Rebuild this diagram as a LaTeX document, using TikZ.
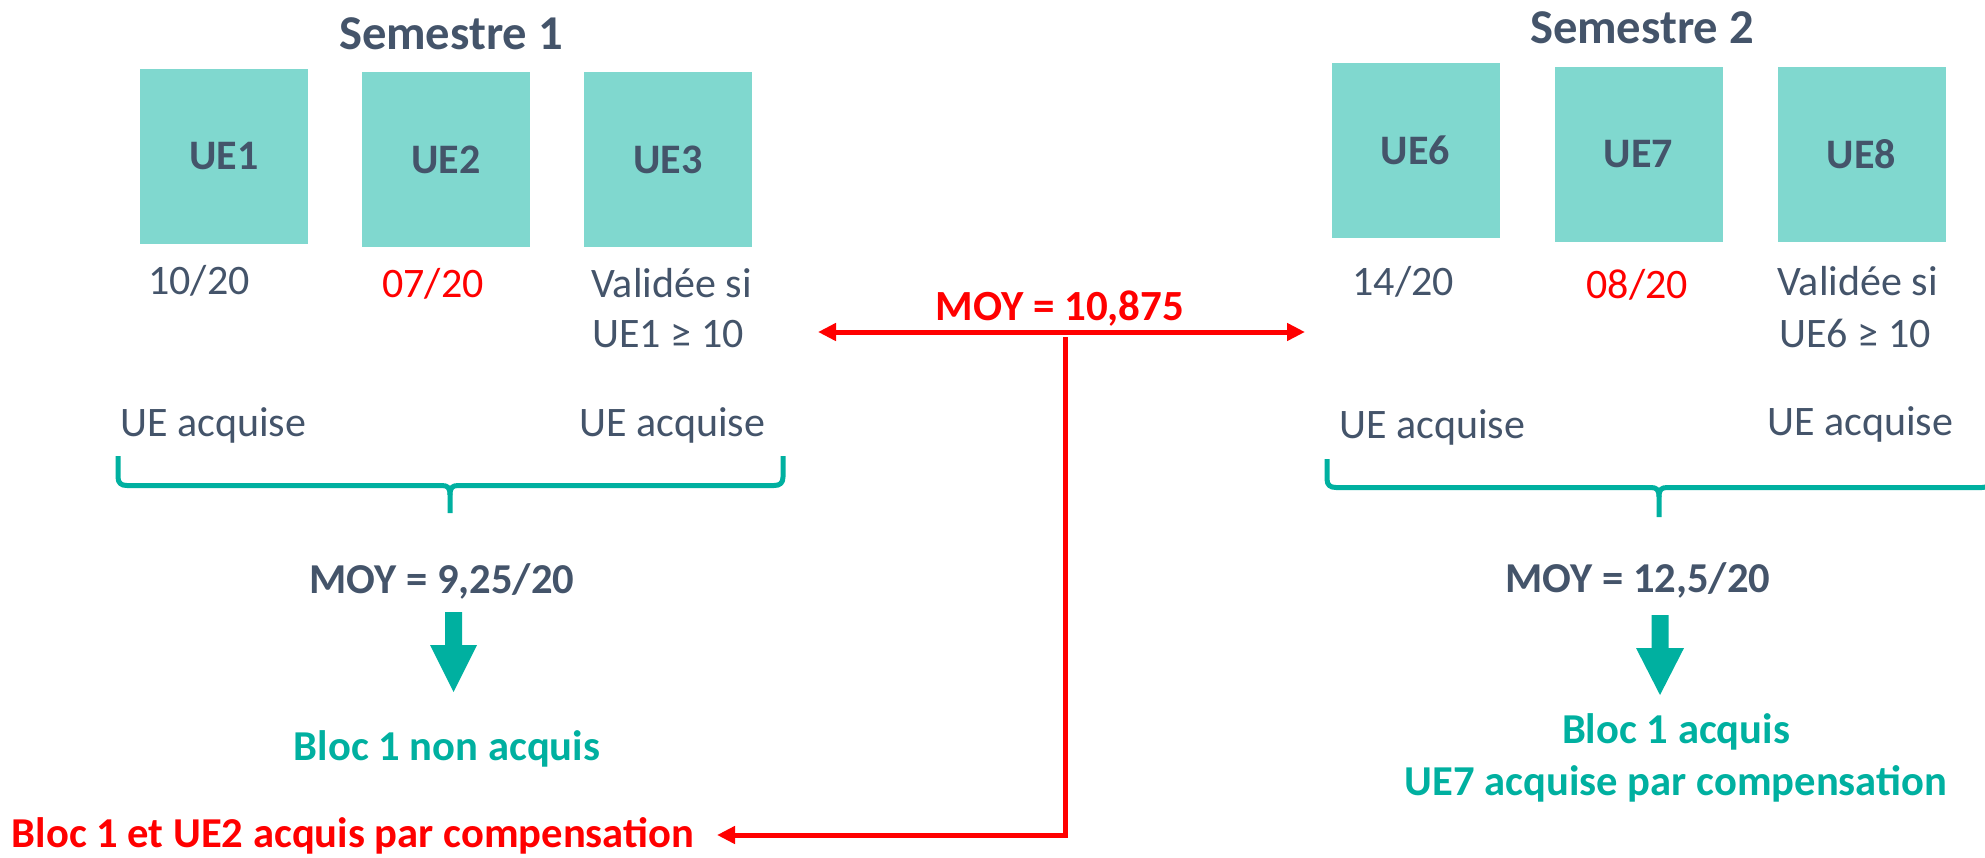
\documentclass[tikz,border=0pt]{standalone}
\usepackage{fontspec}
\setmainfont{Carlito}
\usetikzlibrary{arrows.meta}
\definecolor{slate}{HTML}{44546A}
\definecolor{boxteal}{HTML}{80D8CF}
\definecolor{tealdark}{HTML}{00B0A0}
\definecolor{redx}{HTML}{FF0000}
\begin{document}
\begin{tikzpicture}[x=0.5pt,y=-0.5pt,
  uebox/.style={fill=boxteal, draw=none, inner sep=0pt, minimum width=84pt, minimum height=87.5pt,
    text=slate, font=\bfseries\fontsize{21}{25}\selectfont},
  semtitle/.style={inner sep=0pt, anchor=base, text=slate, font=\bfseries\fontsize{24.3}{29}\selectfont},
  txt/.style={inner sep=0pt, anchor=base west, text=slate, font=\fontsize{21}{26}\selectfont},
  redtxt/.style={txt, text=redx},
  moy/.style={inner sep=0pt, anchor=base, text=slate, font=\bfseries\fontsize{21.3}{26}\selectfont},
  result/.style={inner sep=0pt, anchor=base, text=tealdark, font=\bfseries\fontsize{21.3}{26}\selectfont},
  redbold/.style={inner sep=0pt, anchor=base, text=redx, font=\bfseries\fontsize{21.3}{26}\selectfont},
  brace/.style={draw=tealdark, line width=2.5pt, line join=round},
  redline/.style={draw=redx, line width=2.5pt},
  redtip/.style={-{Triangle[length=9pt,width=8.5pt]}},
  blockarrow/.style={fill=tealdark, draw=none}
]
\useasboundingbox (0,0) rectangle (1985,857);

% ---------- Semestre 1 ----------
\node[semtitle] (s1) at (451,49) {Semestre 1};
\node[uebox] (ue1) at (224,156.5) {UE1};
\node[uebox] (ue2) at (446,159.5) {UE2};
\node[uebox] (ue3) at (668,159.5) {UE3};
\node[txt] (n1) at (148,294) {10/20};
\node[redtxt] (n2) at (382,297) {07/20};
\node[txt] (v3a) at (591,297) {Validée si};
\node[txt] (v3b) at (592,347) {UE1 ≥ 10};
\node[txt] (acq1) at (120,436) {UE acquise};
\node[txt] (acq3) at (579,436) {UE acquise};

\path[brace] (118,456) -- (118,477) .. controls (118,483) and (121,485.5) .. (127,485.5)
  -- (442,485.5) .. controls (448,485.5) and (450,488) .. (450,495) -- (450,513);
\path[brace] (783,456) -- (783,477) .. controls (783,483) and (780,485.5) .. (774,485.5)
  -- (458,485.5) .. controls (452,485.5) and (450,488) .. (450,495);

\node[moy] (moy1) at (442,593) {MOY = 9,25/20};
\path[blockarrow] (445,612) -- (462,612) -- (462,645) -- (477,645) -- (453.5,692) -- (430,645) -- (445,645) -- cycle;
\node[result] (res1) at (447,760) {Bloc 1 non acquis};

% ---------- Semestre 2 ----------
\node[semtitle] (s2) at (1642,43) {Semestre 2};
\node[uebox] (ue6) at (1415.5,150) {UE6};
\node[uebox] (ue7) at (1638.5,154) {UE7};
\node[uebox] (ue8) at (1861.5,154) {UE8};
\node[txt] (n6) at (1352,295) {14/20};
\node[redtxt] (n7) at (1586,298) {08/20};
\node[txt] (v8a) at (1777,295) {Validée si};
\node[txt] (v8b) at (1779,347) {UE6 ≥ 10};
\node[txt] (acq6) at (1339,438) {UE acquise};
\node[txt] (acq8) at (1767,435) {UE acquise};

\path[brace] (1327,459) -- (1327,479) .. controls (1327,485) and (1330,487.5) .. (1336,487.5)
  -- (1651,487.5) .. controls (1657,487.5) and (1659,490) .. (1659,497) -- (1659,517);
\path[brace] (1991,459) -- (1991,479) .. controls (1991,485) and (1988,487.5) .. (1982,487.5)
  -- (1667,487.5) .. controls (1661,487.5) and (1659,490) .. (1659,497);

\node[moy] (moy2) at (1638,592) {MOY = 12,5/20};
\path[blockarrow] (1651.5,615) -- (1668.5,615) -- (1668.5,648) -- (1684,648) -- (1660,695) -- (1636,648) -- (1651.5,648) -- cycle;
\node[result] (res2a) at (1676,743) {Bloc 1 acquis};
\node[result] (res2b) at (1676,795) {UE7 acquise par compensation};

% ---------- Compensation annuelle ----------
\node[redbold, font=\bfseries\fontsize{21.5}{26}\selectfont] (moyan) at (1060,320) {MOY = 10,875};
\coordinate (mL) at (818,332);
\coordinate (mR) at (1305,332);
\coordinate (jn) at (1065,337);
\coordinate (tipL) at (717,835);
\draw[redline, {Triangle[length=9pt,width=8.5pt]}-{Triangle[length=9pt,width=8.5pt]}] (mL) -- (mR);
\draw[redline, redtip] (jn) |- (tipL);
\node[redbold] (bl12) at (353,847) {Bloc 1 et UE2 acquis par compensation};
\end{tikzpicture}
\end{document}
